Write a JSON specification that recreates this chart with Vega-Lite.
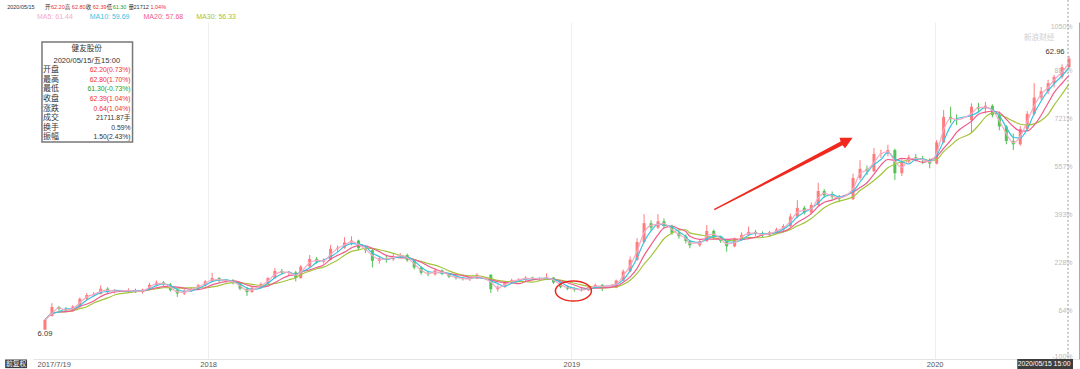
{
"$schema": "https://vega.github.io/schema/vega-lite/v6.json",
"width": 1046, "height": 337,
"autosize": {"type": "none"},
"padding": {"left": 33, "top": 22, "right": 1, "bottom": 10},
"background": "white",
"config": {"view": {"stroke": null}, "axis": {"labelFont": "Liberation Sans"}},
"datasets": {
"k": [
{"d":"2017-07-21","o":6.1,"h":8.1,"l":6.09,"c":8.1},
{"d":"2017-07-28","o":8.9,"h":11.6,"l":8.9,"c":10.8},
{"d":"2017-08-04","o":10.8,"h":11.0,"l":10.0,"c":10.4},
{"d":"2017-08-11","o":10.4,"h":10.8,"l":9.7,"c":10.0},
{"d":"2017-08-18","o":10.0,"h":11.2,"l":9.8,"c":10.9},
{"d":"2017-08-25","o":10.9,"h":12.8,"l":10.7,"c":12.5},
{"d":"2017-09-01","o":12.5,"h":13.7,"l":12.2,"c":13.3},
{"d":"2017-09-08","o":13.3,"h":13.9,"l":12.9,"c":13.5},
{"d":"2017-09-15","o":13.5,"h":15.3,"l":13.4,"c":14.6},
{"d":"2017-09-22","o":14.6,"h":14.9,"l":13.7,"c":14.0},
{"d":"2017-09-29","o":14.0,"h":14.5,"l":13.6,"c":14.2},
{"d":"2017-10-13","o":14.2,"h":14.7,"l":13.8,"c":14.3},
{"d":"2017-10-20","o":14.3,"h":14.6,"l":13.7,"c":13.9},
{"d":"2017-10-27","o":13.9,"h":14.6,"l":13.6,"c":14.4},
{"d":"2017-11-03","o":14.4,"h":15.8,"l":14.2,"c":15.4},
{"d":"2017-11-10","o":15.4,"h":16.3,"l":15.1,"c":15.9},
{"d":"2017-11-17","o":15.9,"h":16.2,"l":15.2,"c":15.5},
{"d":"2017-11-24","o":15.5,"h":15.8,"l":14.0,"c":14.3},
{"d":"2017-12-01","o":14.3,"h":14.5,"l":12.9,"c":13.6},
{"d":"2017-12-08","o":13.6,"h":14.5,"l":13.3,"c":14.2},
{"d":"2017-12-15","o":14.2,"h":14.9,"l":13.9,"c":14.6},
{"d":"2017-12-22","o":14.6,"h":15.6,"l":14.4,"c":15.3},
{"d":"2017-12-29","o":15.3,"h":16.4,"l":15.0,"c":16.1},
{"d":"2018-01-05","o":16.1,"h":17.9,"l":16.0,"c":16.8},
{"d":"2018-01-12","o":16.8,"h":17.0,"l":15.9,"c":16.2},
{"d":"2018-01-19","o":16.2,"h":16.6,"l":15.7,"c":16.3},
{"d":"2018-01-26","o":16.3,"h":16.6,"l":15.5,"c":15.8},
{"d":"2018-02-02","o":15.8,"h":16.0,"l":14.3,"c":14.6},
{"d":"2018-02-09","o":14.6,"h":14.9,"l":13.1,"c":13.9},
{"d":"2018-02-14","o":13.9,"h":15.0,"l":13.8,"c":14.8},
{"d":"2018-02-23","o":14.8,"h":15.9,"l":14.6,"c":15.6},
{"d":"2018-03-02","o":15.6,"h":17.0,"l":15.4,"c":16.8},
{"d":"2018-03-09","o":16.8,"h":18.9,"l":16.6,"c":18.3},
{"d":"2018-03-16","o":18.3,"h":18.7,"l":17.6,"c":17.9},
{"d":"2018-03-23","o":17.9,"h":18.3,"l":17.3,"c":18.0},
{"d":"2018-03-30","o":18.0,"h":18.3,"l":16.1,"c":16.8},
{"d":"2018-04-04","o":16.8,"h":19.5,"l":16.7,"c":19.2},
{"d":"2018-04-13","o":19.2,"h":21.6,"l":19.0,"c":20.8},
{"d":"2018-04-20","o":20.8,"h":21.2,"l":19.8,"c":20.2},
{"d":"2018-04-27","o":20.2,"h":20.9,"l":19.8,"c":20.6},
{"d":"2018-05-04","o":20.6,"h":23.7,"l":20.5,"c":22.9},
{"d":"2018-05-11","o":22.9,"h":23.6,"l":22.2,"c":23.1},
{"d":"2018-05-18","o":23.1,"h":25.3,"l":22.9,"c":24.2},
{"d":"2018-05-25","o":24.2,"h":25.5,"l":23.6,"c":24.6},
{"d":"2018-06-01","o":24.6,"h":24.8,"l":22.6,"c":23.0},
{"d":"2018-06-08","o":23.0,"h":23.5,"l":22.0,"c":22.6},
{"d":"2018-06-15","o":22.6,"h":22.9,"l":19.0,"c":20.4},
{"d":"2018-06-22","o":20.4,"h":21.2,"l":19.8,"c":20.9},
{"d":"2018-06-29","o":20.9,"h":21.4,"l":20.0,"c":20.7},
{"d":"2018-07-06","o":20.7,"h":21.8,"l":20.4,"c":21.4},
{"d":"2018-07-13","o":21.4,"h":22.0,"l":21.0,"c":21.6},
{"d":"2018-07-20","o":21.6,"h":21.9,"l":20.2,"c":20.5},
{"d":"2018-07-27","o":20.5,"h":20.7,"l":18.6,"c":19.0},
{"d":"2018-08-03","o":19.0,"h":19.3,"l":17.5,"c":17.9},
{"d":"2018-08-10","o":17.9,"h":18.3,"l":17.2,"c":17.6},
{"d":"2018-08-17","o":17.6,"h":18.8,"l":17.3,"c":18.4},
{"d":"2018-08-24","o":18.4,"h":18.6,"l":17.4,"c":17.7},
{"d":"2018-08-31","o":17.7,"h":17.9,"l":16.8,"c":17.1},
{"d":"2018-09-07","o":17.1,"h":17.4,"l":16.5,"c":16.8},
{"d":"2018-09-14","o":16.8,"h":17.1,"l":16.3,"c":16.6},
{"d":"2018-09-21","o":16.6,"h":17.0,"l":16.2,"c":16.7},
{"d":"2018-09-28","o":16.7,"h":17.8,"l":16.6,"c":17.5},
{"d":"2018-10-12","o":17.5,"h":17.6,"l":13.7,"c":14.5},
{"d":"2018-10-19","o":14.5,"h":15.3,"l":14.0,"c":15.0},
{"d":"2018-10-26","o":15.0,"h":16.1,"l":14.8,"c":15.8},
{"d":"2018-11-02","o":15.8,"h":16.7,"l":15.6,"c":16.4},
{"d":"2018-11-09","o":16.4,"h":16.8,"l":16.0,"c":16.5},
{"d":"2018-11-16","o":16.5,"h":17.2,"l":16.2,"c":16.9},
{"d":"2018-11-23","o":16.9,"h":17.1,"l":16.4,"c":16.6},
{"d":"2018-11-30","o":16.6,"h":17.0,"l":16.3,"c":16.8},
{"d":"2018-12-07","o":16.8,"h":17.8,"l":16.6,"c":16.9},
{"d":"2018-12-14","o":16.9,"h":17.0,"l":15.6,"c":15.9},
{"d":"2018-12-21","o":15.9,"h":16.0,"l":14.7,"c":15.0},
{"d":"2018-12-28","o":15.0,"h":15.2,"l":14.3,"c":14.6},
{"d":"2019-01-04","o":14.6,"h":14.9,"l":14.0,"c":14.4},
{"d":"2019-01-11","o":14.4,"h":14.8,"l":14.0,"c":14.3},
{"d":"2019-01-18","o":14.3,"h":15.1,"l":14.1,"c":14.9},
{"d":"2019-01-25","o":14.9,"h":15.7,"l":14.8,"c":15.4},
{"d":"2019-02-01","o":15.4,"h":15.6,"l":14.1,"c":14.8},
{"d":"2019-02-15","o":14.8,"h":16.5,"l":14.7,"c":16.3},
{"d":"2019-02-22","o":16.3,"h":18.6,"l":16.2,"c":18.2},
{"d":"2019-03-01","o":18.2,"h":21.3,"l":18.0,"c":20.6},
{"d":"2019-03-08","o":20.6,"h":25.1,"l":20.4,"c":24.3},
{"d":"2019-03-15","o":24.3,"h":30.1,"l":24.0,"c":28.2},
{"d":"2019-03-22","o":28.2,"h":28.8,"l":26.6,"c":27.3},
{"d":"2019-03-29","o":27.3,"h":30.1,"l":27.0,"c":28.6},
{"d":"2019-04-04","o":28.6,"h":29.2,"l":27.2,"c":27.6},
{"d":"2019-04-12","o":27.6,"h":27.9,"l":25.8,"c":26.2},
{"d":"2019-04-19","o":26.2,"h":26.6,"l":25.0,"c":25.5},
{"d":"2019-04-26","o":25.5,"h":25.9,"l":24.0,"c":24.5},
{"d":"2019-04-30","o":24.5,"h":24.7,"l":23.0,"c":23.6},
{"d":"2019-05-10","o":23.6,"h":24.9,"l":23.3,"c":24.5},
{"d":"2019-05-17","o":24.5,"h":27.8,"l":24.3,"c":26.6},
{"d":"2019-05-24","o":26.6,"h":26.9,"l":24.9,"c":25.3},
{"d":"2019-05-31","o":25.3,"h":25.6,"l":24.1,"c":24.5},
{"d":"2019-06-06","o":24.5,"h":24.7,"l":22.3,"c":23.4},
{"d":"2019-06-14","o":23.4,"h":25.2,"l":23.2,"c":24.9},
{"d":"2019-06-21","o":24.9,"h":26.3,"l":24.6,"c":25.8},
{"d":"2019-06-28","o":25.8,"h":27.5,"l":25.6,"c":26.4},
{"d":"2019-07-05","o":26.4,"h":26.8,"l":25.6,"c":26.0},
{"d":"2019-07-12","o":26.0,"h":26.5,"l":25.3,"c":25.7},
{"d":"2019-07-19","o":25.7,"h":26.6,"l":25.4,"c":26.3},
{"d":"2019-07-26","o":26.3,"h":27.3,"l":26.0,"c":26.9},
{"d":"2019-08-02","o":26.9,"h":28.0,"l":26.3,"c":27.6},
{"d":"2019-08-09","o":27.6,"h":30.2,"l":27.4,"c":29.6},
{"d":"2019-08-16","o":29.6,"h":33.0,"l":29.3,"c":31.4},
{"d":"2019-08-23","o":31.4,"h":31.8,"l":30.0,"c":30.4},
{"d":"2019-08-30","o":30.4,"h":32.5,"l":30.0,"c":32.0},
{"d":"2019-09-06","o":32.0,"h":36.6,"l":31.8,"c":34.9},
{"d":"2019-09-12","o":34.9,"h":35.3,"l":33.5,"c":34.0},
{"d":"2019-09-20","o":34.0,"h":34.8,"l":33.2,"c":33.7},
{"d":"2019-09-27","o":33.7,"h":34.1,"l":32.6,"c":33.2},
{"d":"2019-10-11","o":33.2,"h":38.5,"l":33.0,"c":37.6},
{"d":"2019-10-18","o":37.6,"h":41.3,"l":37.2,"c":39.5},
{"d":"2019-10-25","o":39.5,"h":40.2,"l":38.2,"c":39.0},
{"d":"2019-11-01","o":39.0,"h":43.8,"l":38.8,"c":42.6},
{"d":"2019-11-08","o":42.6,"h":43.5,"l":41.8,"c":42.7},
{"d":"2019-11-15","o":42.7,"h":44.5,"l":42.1,"c":43.4},
{"d":"2019-11-22","o":43.4,"h":43.7,"l":37.2,"c":38.6},
{"d":"2019-11-29","o":38.6,"h":41.6,"l":38.0,"c":41.0},
{"d":"2019-12-06","o":41.0,"h":42.4,"l":40.6,"c":41.9},
{"d":"2019-12-13","o":41.9,"h":42.6,"l":41.0,"c":41.5},
{"d":"2019-12-20","o":41.5,"h":42.2,"l":40.5,"c":41.3},
{"d":"2019-12-27","o":41.3,"h":41.7,"l":39.6,"c":40.6},
{"d":"2020-01-03","o":40.6,"h":45.5,"l":40.4,"c":45.0},
{"d":"2020-01-10","o":45.0,"h":51.7,"l":44.8,"c":50.3},
{"d":"2020-01-17","o":50.3,"h":52.4,"l":49.0,"c":49.8},
{"d":"2020-01-23","o":49.8,"h":50.8,"l":48.6,"c":49.6},
{"d":"2020-02-07","o":49.6,"h":53.1,"l":47.0,"c":52.4},
{"d":"2020-02-14","o":52.4,"h":53.2,"l":51.2,"c":52.0},
{"d":"2020-02-21","o":52.0,"h":53.4,"l":51.0,"c":52.6},
{"d":"2020-02-28","o":52.6,"h":52.9,"l":50.2,"c":50.7},
{"d":"2020-03-06","o":50.7,"h":51.4,"l":47.5,"c":48.3},
{"d":"2020-03-13","o":48.3,"h":48.6,"l":44.6,"c":45.3},
{"d":"2020-03-20","o":45.3,"h":46.8,"l":43.4,"c":44.6},
{"d":"2020-03-27","o":44.6,"h":48.4,"l":44.3,"c":47.8},
{"d":"2020-04-03","o":47.8,"h":51.5,"l":47.4,"c":50.9},
{"d":"2020-04-10","o":50.9,"h":57.3,"l":50.6,"c":54.3},
{"d":"2020-04-17","o":54.3,"h":56.5,"l":53.8,"c":55.6},
{"d":"2020-04-24","o":55.6,"h":58.0,"l":55.0,"c":57.3},
{"d":"2020-04-30","o":57.3,"h":59.0,"l":56.4,"c":58.6},
{"d":"2020-05-08","o":58.6,"h":61.2,"l":58.2,"c":60.6},
{"d":"2020-05-15","o":60.6,"h":62.96,"l":60.3,"c":62.39}
],
"hdr1": [
{"t":"2020/05/15","d":"2017-06-13","p":73.1,"k":"flat"},
{"t":"开","d":"2017-07-21","p":73.1,"k":"flat"},
{"t":"62.20","d":"2017-07-27","p":73.1,"k":"up"},
{"t":"高","d":"2017-08-10","p":73.1,"k":"flat"},
{"t":"62.80","d":"2017-08-17","p":73.1,"k":"up"},
{"t":"收","d":"2017-08-31","p":73.1,"k":"flat"},
{"t":"62.39","d":"2017-09-07","p":73.1,"k":"up"},
{"t":"低","d":"2017-09-21","p":73.1,"k":"flat"},
{"t":"61.30","d":"2017-09-27","p":73.1,"k":"down"},
{"t":"量","d":"2017-10-13","p":73.1,"k":"flat"},
{"t":"21712","d":"2017-10-18","p":73.1,"k":"flat"},
{"t":"1.04%","d":"2017-11-04","p":73.1,"k":"up"}
],
"hdr2": [
{"t":"MA5: 61.44","d":"2017-07-13","p":71.0,"k":"MA5"},
{"t":"MA10: 59.69","d":"2017-09-04","p":71.0,"k":"MA10"},
{"t":"MA20: 57.68","d":"2017-10-28","p":71.0,"k":"MA20"},
{"t":"MA30: 56.33","d":"2017-12-20","p":71.0,"k":"MA30"}
],
"lab": [
{"t":"开盘","d":"2017-07-19","p":60.0,"k":"flat"},
{"t":"最高","d":"2017-07-19","p":58.0,"k":"flat"},
{"t":"最低","d":"2017-07-19","p":56.0,"k":"flat"},
{"t":"收盘","d":"2017-07-19","p":53.95,"k":"flat"},
{"t":"涨跌","d":"2017-07-19","p":51.9,"k":"flat"},
{"t":"成交","d":"2017-07-19","p":50.0,"k":"flat"},
{"t":"换手","d":"2017-07-19","p":48.05,"k":"flat"},
{"t":"振幅","d":"2017-07-19","p":46.05,"k":"flat"}
],
"val": [
{"t":"62.20(0.73%)","d":"2017-10-15","p":60.0,"k":"up"},
{"t":"62.80(1.70%)","d":"2017-10-15","p":58.0,"k":"up"},
{"t":"61.30(-0.73%)","d":"2017-10-15","p":56.0,"k":"down"},
{"t":"62.39(1.04%)","d":"2017-10-15","p":53.95,"k":"up"},
{"t":"0.64(1.04%)","d":"2017-10-15","p":51.9,"k":"up"},
{"t":"21711.87手","d":"2017-10-15","p":50.0,"k":"flat"},
{"t":"0.59%","d":"2017-10-15","p":48.05,"k":"flat"},
{"t":"1.50(2.43%)","d":"2017-10-15","p":46.05,"k":"flat"}
],
"ctr": [
{"t":"健友股份","d":"2017-09-01","p":64.3,"k":"flat"},
{"t":"2020/05/15/五15:00","d":"2017-09-01","p":62.0,"k":"flat"},
{"t":"62.96","d":"2020-05-01","p":63.8,"k":"flat"},
{"t":"6.09","d":"2017-07-21","p":5.2,"k":"flat"},
{"t":"新浪财经","d":"2020-04-15","p":66.7,"k":"wm"}
],
"btm": [
{"t":"前复权","d":"2017-06-22","p":-0.95,"k":"white"},
{"t":"2020/05/15 15:00","d":"2020-04-20","p":-0.95,"k":"white"}
],
"box": [{"d":"2017-07-18","d2":"2017-10-17","p":65.85,"p2":45.1}],
"dbox": [
{"d":"2017-06-11","d2":"2017-07-03","p":-0.1,"p2":-1.9},
{"d":"2020-03-24","d2":"2020-05-19","p":0,"p2":-2.1}
],
"ann": [
{"n":"arrow","d":"2019-08-02","p":38.5},
{"n":"circle","d":"2019-01-03","p":14.13},
{"n":"cross","d":"2020-05-14","p":74.6}
]
},
"encoding": {
"x": {"field":"d","type":"temporal","title":null,
 "scale": {"domain":[{"year":2017,"month":7,"date":14,"utc":true},{"year":2020,"month":5,"date":20,"utc":true}],"nice":false},
 "axis": {"values":[{"year":2017,"month":7,"date":19,"utc":true},{"year":2018,"month":1,"date":1,"utc":true},{"year":2019,"month":1,"date":1,"utc":true},{"year":2020,"month":1,"date":1,"utc":true}],
  "labelExpr":"utcmonth(datum.value) == 6 ? '2017/7/19' : utcFormat(datum.value, '%Y')",
  "labelAlign":{"condition":{"test":"utcmonth(datum.value) == 6","value":"left"},"value":"center"},
  "labelOffset":{"condition":{"test":"utcmonth(datum.value) == 6","value":-6},"value":0},
  "gridOpacity":{"condition":{"test":"utcmonth(datum.value) == 6","value":0},"value":1},
  "grid":true,"gridColor":"#eeeeee","ticks":false,"tickSize":0,"domain":true,"domainColor":"#e4e4e4",
  "labelPadding":1,"labelFontSize":7.5,"labelColor":"#555555","labelFlush":false,"labelOverlap":false}}
},
"layer": [
{"layer": [
 {"data":{"name":"box"},"mark":{"type":"rect","fill":"white","stroke":"#777777","strokeWidth":1.5},
  "encoding":{"x2":{"field":"d2"},"y":{"field":"p","type":"quantitative","scale":{"domain":[0,70],"nice":false,"zero":false},"axis":null},"y2":{"field":"p2"}}},
 {"data":{"name":"k"},"mark":{"type":"rule","strokeWidth":1},
  "encoding":{"y":{"field":"l","type":"quantitative","title":null,"scale":{"domain":[0,70],"nice":false,"zero":false},
    "axis":{"values":[0,10,20,30,40,50,60,70],"grid":true,"gridColor":"#eeeeee","domain":false,"ticks":false,"tickSize":0,"labelPadding":1,"labelColor":"#888888","labelFontSize":7.5,"labelFlush":true,"title":null}},
   "y2":{"field":"h"},
   "color":{"condition":{"test":"datum.c >= datum.o","value":"#ff7c7c"},"value":"#55c255"}}},
 {"data":{"name":"k"},"mark":{"type":"bar","width":3},
  "encoding":{"y":{"field":"o","type":"quantitative","scale":{"domain":[0,70],"nice":false,"zero":false},"axis":null},
   "y2":{"field":"c"},
   "color":{"condition":{"test":"datum.c >= datum.o","value":"#ff7c7c"},"value":"#55c255"}}},
 {"data":{"name":"k"},
  "transform":[
   {"window":[{"op":"mean","field":"c","as":"MA5"}],"frame":[-1,0],"sort":[{"field":"d"}]},
   {"window":[{"op":"mean","field":"c","as":"MA10"}],"frame":[-2,0],"sort":[{"field":"d"}]},
   {"window":[{"op":"mean","field":"c","as":"MA20"}],"frame":[-4,0],"sort":[{"field":"d"}]},
   {"window":[{"op":"mean","field":"c","as":"MA30"}],"frame":[-6,0],"sort":[{"field":"d"}]},
   {"fold":["MA30","MA20","MA10","MA5"],"as":["key","ma"]}],
  "mark":{"type":"line","strokeWidth":1.2,"interpolate":"monotone"},
  "encoding":{"y":{"field":"ma","type":"quantitative","scale":{"domain":[0,70],"nice":false,"zero":false},"axis":null},
   "color":{"field":"key","type":"nominal","legend":null,
    "scale":{"domain":["up","down","flat","MA5","MA10","MA20","MA30","wm","white"],"range":["#f2302b","#1e9e1e","#333333","#f6a9c6","#38c3e0","#ef5b8c","#a4c43c","#d0d0d0","#ffffff"]}}}},
 {"data":{"name":"dbox"},"mark":{"type":"rect","fill":"#3d3d3d"},
  "encoding":{"x2":{"field":"d2"},"y":{"field":"p","type":"quantitative","scale":{"domain":[0,70],"nice":false,"zero":false},"axis":null},"y2":{"field":"p2"}}},
 {"data":{"name":"ann"},"transform":[{"filter":"datum.n == 'cross'"}],"mark":{"type":"rule","strokeDash":[2,2],"color":"#999999","strokeWidth":1},
  "encoding":{"y":{"field":"p","type":"quantitative","scale":{"domain":[0,70],"nice":false,"zero":false},"axis":null},"y2":{"datum":0}}},
 {"data":{"name":"ann"},"transform":[{"filter":"datum.n == 'arrow'"}],
  "mark":{"type":"point","shape":"M -0.008 0.975 L 0.008 0.975 L 0.026 -0.82 L 0.075 -0.83 L 0 -0.975 L -0.075 -0.83 L -0.026 -0.82 Z","size":25600,"angle":62.5,"filled":true,"fill":"#f0281e","strokeWidth":0,"opacity":1},
  "encoding":{"y":{"field":"p","type":"quantitative","scale":{"domain":[0,70],"nice":false,"zero":false},"axis":null}}},
 {"data":{"name":"ann"},"transform":[{"filter":"datum.n == 'circle'"}],
  "mark":{"type":"point","shape":"M -1 0 C -1 -0.307 -0.552 -0.556 0 -0.556 C 0.552 -0.556 1 -0.307 1 0 C 1 0.307 0.552 0.556 0 0.556 C -0.552 0.556 -1 0.307 -1 0 Z","size":1296,"filled":false,"stroke":"#e8281e","strokeWidth":1.5,"opacity":1},
  "encoding":{"y":{"field":"p","type":"quantitative","scale":{"domain":[0,70],"nice":false,"zero":false},"axis":null}}},
 {"data":{"name":"hdr1"},"mark":{"type":"text","align":"left","baseline":"middle","fontSize":5.5,"font":"Liberation Sans, Noto Sans CJK SC"},
  "encoding":{"y":{"field":"p","type":"quantitative","scale":{"domain":[0,70],"nice":false,"zero":false},"axis":null},"text":{"field":"t"},
   "color":{"field":"k","type":"nominal","legend":null,"scale":{"domain":["up","down","flat","MA5","MA10","MA20","MA30","wm","white"],"range":["#f2302b","#1e9e1e","#333333","#f6a9c6","#38c3e0","#ef5b8c","#a4c43c","#d0d0d0","#ffffff"]}}}},
 {"data":{"name":"hdr2"},"mark":{"type":"text","align":"left","baseline":"middle","fontSize":7,"font":"Liberation Sans"},
  "encoding":{"y":{"field":"p","type":"quantitative","scale":{"domain":[0,70],"nice":false,"zero":false},"axis":null},"text":{"field":"t"},
   "color":{"field":"k","type":"nominal","legend":null,"scale":{"domain":["up","down","flat","MA5","MA10","MA20","MA30","wm","white"],"range":["#f2302b","#1e9e1e","#333333","#f6a9c6","#38c3e0","#ef5b8c","#a4c43c","#d0d0d0","#ffffff"]}}}},
 {"data":{"name":"lab"},"mark":{"type":"text","align":"left","baseline":"middle","fontSize":8,"font":"Noto Sans CJK SC"},
  "encoding":{"y":{"field":"p","type":"quantitative","scale":{"domain":[0,70],"nice":false,"zero":false},"axis":null},"text":{"field":"t"},
   "color":{"field":"k","type":"nominal","legend":null,"scale":{"domain":["up","down","flat","MA5","MA10","MA20","MA30","wm","white"],"range":["#f2302b","#1e9e1e","#333333","#f6a9c6","#38c3e0","#ef5b8c","#a4c43c","#d0d0d0","#ffffff"]}}}},
 {"data":{"name":"val"},"mark":{"type":"text","align":"right","baseline":"middle","fontSize":6.8,"font":"Liberation Sans, Noto Sans CJK SC"},
  "encoding":{"y":{"field":"p","type":"quantitative","scale":{"domain":[0,70],"nice":false,"zero":false},"axis":null},"text":{"field":"t"},
   "color":{"field":"k","type":"nominal","legend":null,"scale":{"domain":["up","down","flat","MA5","MA10","MA20","MA30","wm","white"],"range":["#f2302b","#1e9e1e","#333333","#f6a9c6","#38c3e0","#ef5b8c","#a4c43c","#d0d0d0","#ffffff"]}}}},
 {"data":{"name":"ctr"},"mark":{"type":"text","align":"center","baseline":"middle","fontSize":7.6,"font":"Liberation Sans, Noto Sans CJK SC"},
  "encoding":{"y":{"field":"p","type":"quantitative","scale":{"domain":[0,70],"nice":false,"zero":false},"axis":null},"text":{"field":"t"},
   "color":{"field":"k","type":"nominal","legend":null,"scale":{"domain":["up","down","flat","MA5","MA10","MA20","MA30","wm","white"],"range":["#f2302b","#1e9e1e","#333333","#f6a9c6","#38c3e0","#ef5b8c","#a4c43c","#d0d0d0","#ffffff"]}}}},
 {"data":{"name":"btm"},"mark":{"type":"text","align":"center","baseline":"middle","fontSize":6.8,"font":"Liberation Sans, Noto Sans CJK SC"},
  "encoding":{"y":{"field":"p","type":"quantitative","scale":{"domain":[0,70],"nice":false,"zero":false},"axis":null},"text":{"field":"t"},
   "color":{"field":"k","type":"nominal","legend":null,"scale":{"domain":["up","down","flat","MA5","MA10","MA20","MA30","wm","white"],"range":["#f2302b","#1e9e1e","#333333","#f6a9c6","#38c3e0","#ef5b8c","#a4c43c","#d0d0d0","#ffffff"]}}}}
]},
{"data":{"name":"k"},"mark":{"type":"point","opacity":0},
 "encoding":{"y":{"datum":0,"type":"quantitative","scale":{"domain":[-100,1050],"nice":false,"zero":false},
  "axis":{"orient":"right","values":[-100,64,228,393,557,721,886,1050],"labelExpr":"datum.value + '%'","grid":false,"domain":true,"domainColor":"#aaaaaa","ticks":false,"tickSize":0,"labelAlign":"right","labelPadding":-7,"labelColor":"#bbbbbb","labelFontSize":7,"labelFlush":true,"title":null}}}}
],
"resolve": {"scale": {"y": "independent"}}
}
